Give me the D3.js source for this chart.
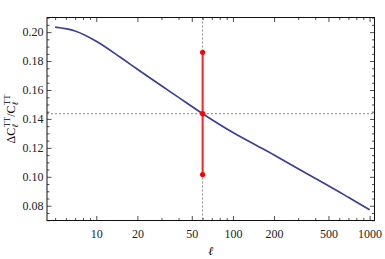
<!DOCTYPE html>
<html>
<head>
<meta charset="utf-8">
<script src="https://cdn.jsdelivr.net/npm/d3@7"></script>
<style>
  body { margin: 0; background: #fff; }
</style>
</head>
<body>
<div id="chart"></div>
<script>
// curve values
const ell = [5, 7, 10, 15, 20, 30, 40, 60, 100, 150, 200, 300, 500, 700, 1000];
const ratio = [0.2035, 0.2008, 0.1937, 0.1826, 0.1743, 0.1629, 0.1549, 0.1436,
               0.1306, 0.1215, 0.1150, 0.1055, 0.0938, 0.0858, 0.0772];

// error bar at ell = 60
const markEll = 60;
const markVals = [0.1016, 0.1436, 0.1860];

const xMajor = [10, 20, 50, 100, 200, 500, 1000];
const xMinor = [5, 6, 7, 8, 9, 30, 40, 60, 70, 80, 90, 300, 400, 600, 700, 800, 900];
const yMajor = [0.08, 0.10, 0.12, 0.14, 0.16, 0.18, 0.20];
const yMinor = d3.range(0.07, 0.2101, 0.005).filter(v => !yMajor.some(m => Math.abs(m - v) < 1e-6));

const FONT = '"Liberation Serif", "Times New Roman", "DejaVu Serif", serif';

const W = 385, H = 259;
const margin = { top: 17.5, right: 10.5, bottom: 38.5, left: 47 };
const width = W - margin.left - margin.right;
const height = H - margin.top - margin.bottom;

const svg = d3.select("#chart").append("svg")
  .attr("width", W)
  .attr("height", H)
  .attr("font-family", FONT);

const g = svg.append("g")
  .attr("transform", `translate(${margin.left},${margin.top})`);

const x = d3.scaleLog().domain([4.36, 1086]).range([0, width]);
const y = d3.scaleLinear().domain([0.0698, 0.2101]).range([height, 0]);

// dotted guide lines
g.append("line")
  .attr("x1", x(markEll)).attr("x2", x(markEll))
  .attr("y1", 0).attr("y2", height)
  .attr("stroke", "#888").attr("stroke-width", 1).attr("stroke-dasharray", "2,2");
g.append("line")
  .attr("x1", 0).attr("x2", width)
  .attr("y1", y(markVals[1])).attr("y2", y(markVals[1]))
  .attr("stroke", "#888").attr("stroke-width", 1).attr("stroke-dasharray", "2,2");

// main curve
const line = d3.line()
  .x((d, i) => x(ell[i]))
  .y(d => y(d))
  .curve(d3.curveCatmullRom.alpha(0.5));

g.append("path")
  .datum(ratio)
  .attr("fill", "none")
  .attr("stroke", "#3d3d9b")
  .attr("stroke-width", 1.7)
  .attr("d", line);

// red error bar
g.append("line")
  .attr("x1", x(markEll)).attr("x2", x(markEll))
  .attr("y1", y(d3.min(markVals))).attr("y2", y(d3.max(markVals)))
  .attr("stroke", "#f22").attr("stroke-width", 2);
g.selectAll("circle.mark")
  .data(markVals)
  .join("circle")
  .attr("class", "mark")
  .attr("cx", x(markEll))
  .attr("cy", d => y(d))
  .attr("r", 2.6)
  .attr("fill", "#f00");

// frame axes, ticks pointing inward
function frameAxis(axisFn, scale, values, size, labels) {
  return axisFn(scale).tickValues(values).tickSizeInner(-size).tickSizeOuter(0)
    .tickFormat(labels ? labels : () => "");
}

const fmtY = d3.format(".2f");

const bottom = g.append("g").attr("transform", `translate(0,${height})`)
  .call(frameAxis(d3.axisBottom, x, xMajor, 4.5, d3.format("d")));
g.append("g").attr("transform", `translate(0,${height})`)
  .call(frameAxis(d3.axisBottom, x, xMinor, 2.5));
g.append("g")
  .call(frameAxis(d3.axisTop, x, xMajor, 4.5));
g.append("g")
  .call(frameAxis(d3.axisTop, x, xMinor, 2.5));

const left = g.append("g")
  .call(frameAxis(d3.axisLeft, y, yMajor, 4.5, fmtY));
g.append("g")
  .call(frameAxis(d3.axisLeft, y, yMinor, 2.5));
g.append("g").attr("transform", `translate(${width},0)`)
  .call(frameAxis(d3.axisRight, y, yMajor, 4.5));
g.append("g").attr("transform", `translate(${width},0)`)
  .call(frameAxis(d3.axisRight, y, yMinor, 2.5));

g.selectAll(".domain").remove();
g.selectAll(".tick line").attr("stroke", "#222").attr("stroke-width", 0.8);
g.selectAll(".tick text").attr("font-family", FONT);

bottom.selectAll(".tick text")
  .attr("y", 9).attr("font-size", 12).attr("fill", "#222");
left.selectAll(".tick text")
  .attr("x", -3.5).attr("font-size", 12).attr("fill", "#222");

// frame
g.append("rect")
  .attr("width", width).attr("height", height)
  .attr("fill", "none").attr("stroke", "#111").attr("stroke-width", 1);

// axis titles
svg.append("text")
  .attr("x", margin.left + width / 2)
  .attr("y", 255)
  .attr("text-anchor", "middle")
  .attr("font-size", 12)
  .attr("font-style", "italic")
  .text("ℓ");

const yt = svg.append("text")
  .attr("transform", `translate(15,${margin.top + height / 2}) rotate(-90)`)
  .attr("text-anchor", "middle")
  .attr("font-size", 12);
yt.append("tspan").text("ΔC");
yt.append("tspan").attr("font-size", 8.5).attr("font-style", "italic").attr("dy", 3).text("ℓ");
yt.append("tspan").attr("font-size", 8.5).attr("dy", -8.5).attr("dx", -3).text("TT");
yt.append("tspan").attr("dy", 5.5).text("/C");
yt.append("tspan").attr("font-size", 8.5).attr("font-style", "italic").attr("dy", 3).text("ℓ");
yt.append("tspan").attr("font-size", 8.5).attr("dy", -8.5).attr("dx", -3).text("TT");
</script>
</body>
</html>
